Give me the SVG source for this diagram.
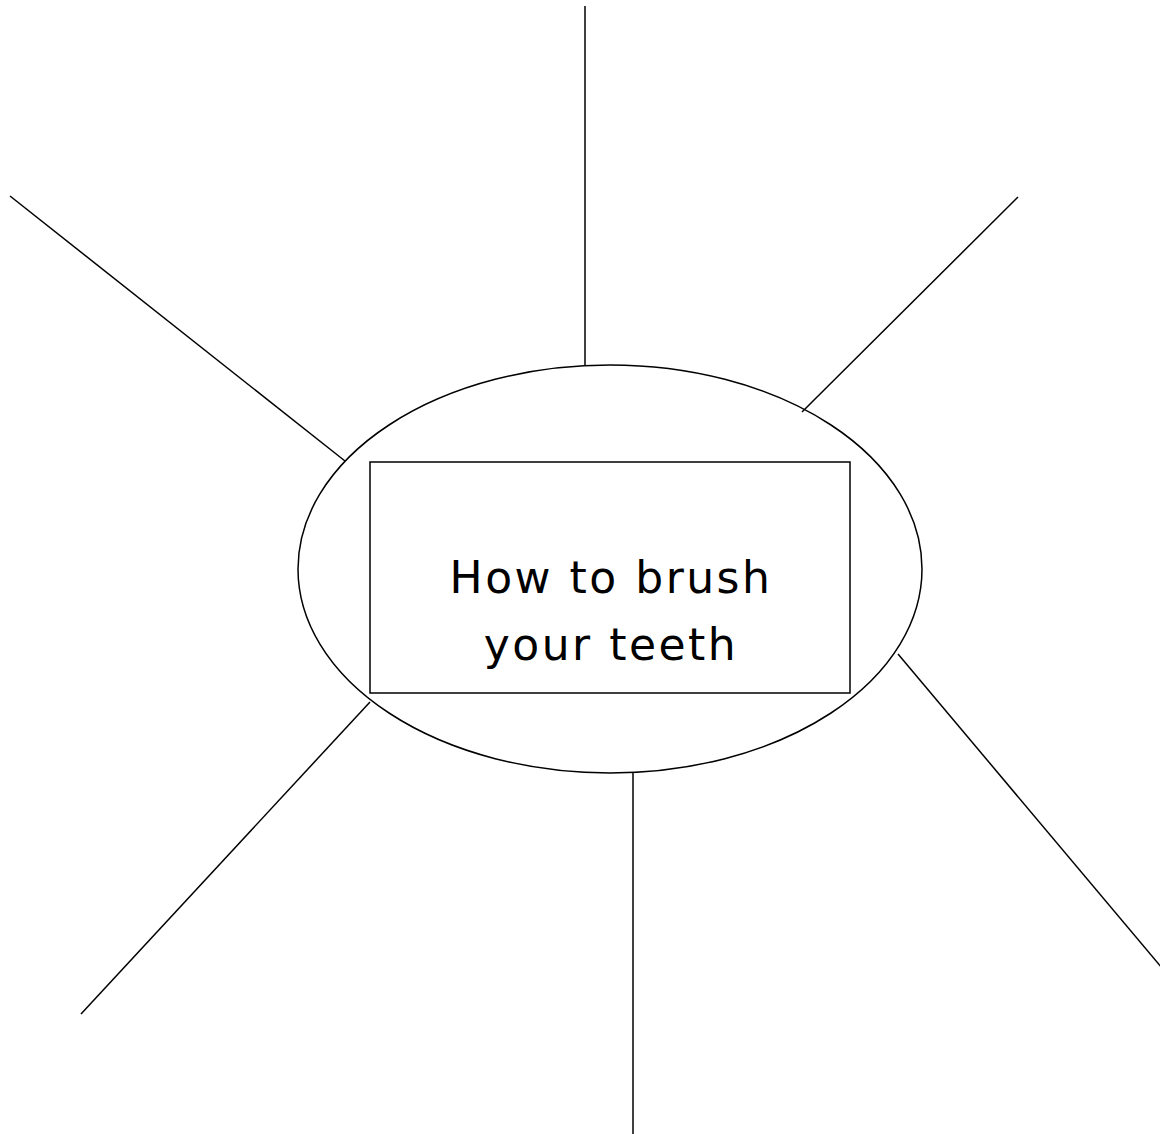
<svg xmlns="http://www.w3.org/2000/svg" width="1160" height="1134" viewBox="0 0 1160 1134">
<style>
.ln{stroke:#000;stroke-width:1.5;fill:none}
.t{font-family:"Comic Sans MS","DejaVu Sans",sans-serif;font-size:44px;fill:#000;text-anchor:middle;letter-spacing:2.5px}
</style>
<rect width="1160" height="1134" fill="#fff"/>
<g id="connectors">
<line class="ln" x1="585" y1="6" x2="585" y2="365"/>
<line class="ln" x1="1018" y1="197" x2="802" y2="412"/>
<line class="ln" x1="10" y1="196" x2="345" y2="461"/>
<line class="ln" x1="898" y1="654" x2="1162" y2="968"/>
<line class="ln" x1="370" y1="702" x2="81" y2="1014"/>
<line class="ln" x1="633" y1="773" x2="633" y2="1134"/>
</g>
<g id="center">
<ellipse class="ln" cx="610" cy="569" rx="312" ry="204"/>
<rect class="ln" x="370" y="462" width="480" height="231"/>
<text class="t" x="611" y="593">How to brush</text>
<text class="t" x="611" y="660">your teeth</text>
</g>
</svg>
